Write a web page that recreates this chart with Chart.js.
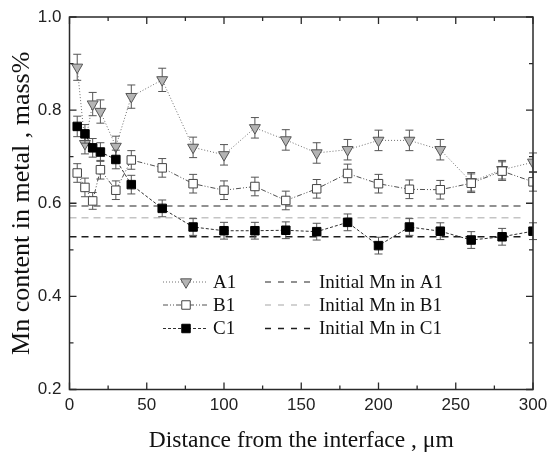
<!DOCTYPE html>
<html>
<head>
<meta charset="utf-8">
<script src="https://cdn.jsdelivr.net/npm/chart.js@4/dist/chart.umd.min.js"></script>
<style>
html,body{margin:0;padding:0;background:#fff;}
canvas{display:block;}
</style>
</head>
<body>
<canvas id="c" width="548" height="459"></canvas>
<script>
// ---- data ----
const distance = [5, 10, 15, 20, 30, 40, 60, 80, 100, 120, 140, 160, 180, 200, 220, 240, 260, 280, 300];
const a1 = [0.892, 0.728, 0.813, 0.797, 0.722, 0.829, 0.865, 0.720, 0.704, 0.762, 0.736, 0.708, 0.715, 0.735, 0.735, 0.715, 0.646, 0.672, 0.688];
const b1 = [0.665, 0.634, 0.605, 0.672, 0.628, 0.693, 0.676, 0.642, 0.628, 0.636, 0.606, 0.631, 0.664, 0.642, 0.630, 0.629, 0.643, 0.669, 0.646];
const c1 = [0.765, 0.749, 0.719, 0.710, 0.694, 0.640, 0.589, 0.549, 0.541, 0.541, 0.542, 0.539, 0.559, 0.509, 0.549, 0.540, 0.521, 0.528, 0.540];
const a1Err = [0.028, 0.022, 0.025, 0.025, 0.022, 0.025, 0.025, 0.022, 0.022, 0.022, 0.022, 0.022, 0.022, 0.022, 0.022, 0.022, 0.020, 0.020, 0.020];
const b1Err = [0.020, 0.020, 0.018, 0.020, 0.020, 0.020, 0.020, 0.020, 0.020, 0.020, 0.020, 0.020, 0.020, 0.020, 0.020, 0.020, 0.020, 0.020, 0.020];
const c1Err = [0.022, 0.020, 0.020, 0.020, 0.020, 0.020, 0.018, 0.018, 0.018, 0.018, 0.018, 0.018, 0.018, 0.018, 0.018, 0.018, 0.018, 0.018, 0.018];
const initialMn = [0.594, 0.569, 0.528]; // A1, B1, C1
const refX = [0, 293];
const seriesNames = ['A1', 'B1', 'C1'];
const refNames = ['Initial Mn in A1', 'Initial Mn in B1', 'Initial Mn in C1'];
const yTicks = [0.2, 0.4, 0.6, 0.8, 1.0];
const yMinor = [0.3, 0.5, 0.7, 0.9];
const xTicks = [0, 50, 100, 150, 200, 250, 300];
const xMinor = [25, 75, 125, 175, 225, 275];

const pts = (ys) => distance.map((x, i) => ({x: x, y: ys[i]}));
const refPts = (v) => refX.map(x => ({x: x, y: v}));

const styles = [
  {line: '#707070', dash: [1, 2], pointStyle: 'triangle', rotation: 180, radius: 6.3, bg: '#b4b4b4', border: '#555'},
  {line: '#505050', dash: [5, 2, 1, 2, 1, 2], pointStyle: 'rect', rotation: 0, radius: 6, bg: '#ffffff', border: '#444'},
  {line: '#303030', dash: [3, 2], pointStyle: 'rect', rotation: 0, radius: 6, bg: '#000000', border: '#000'}
];
const refColors = ['#6e6e6e', '#c4c4c4', '#1e1e1e'];
const errs = [a1Err, b1Err, c1Err];

const datasets = [];
[a1, b1, c1].forEach((ys, i) => {
  const s = styles[i];
  datasets.push({
    label: seriesNames[i], data: pts(ys), errors: errs[i],
    borderColor: s.line, borderWidth: 1, borderDash: s.dash,
    pointStyle: s.pointStyle, rotation: s.rotation, pointRadius: s.radius,
    pointBackgroundColor: s.bg, pointBorderColor: s.border, pointBorderWidth: 1,
    fill: false, tension: 0, order: 3 - i
  });
});
initialMn.forEach((v, i) => {
  datasets.push({
    label: refNames[i], data: refPts(v),
    borderColor: refColors[i], borderWidth: 1.6, borderDash: [7, 5],
    pointRadius: 0, fill: false, order: 10
  });
});

const errorBars = {
  id: 'errorBars',
  beforeDatasetDraw(chart, args) {
    const ds = chart.data.datasets[args.index];
    if (!ds.errors) return;
    const {ctx, scales: {x, y}} = chart;
    ctx.save();
    ctx.strokeStyle = '#555';
    ctx.lineWidth = 1;
    ds.data.forEach((p, i) => {
      const px = x.getPixelForValue(p.x);
      const top = y.getPixelForValue(p.y + ds.errors[i]);
      const bot = y.getPixelForValue(p.y - ds.errors[i]);
      ctx.beginPath();
      ctx.moveTo(px, top); ctx.lineTo(px, bot);
      ctx.moveTo(px - 4, top); ctx.lineTo(px + 4, top);
      ctx.moveTo(px - 4, bot); ctx.lineTo(px + 4, bot);
      ctx.stroke();
    });
    ctx.restore();
  }
};

const frameTicks = {
  id: 'frameTicks',
  afterDraw(chart) {
    const {ctx, chartArea: a, scales: {x, y}} = chart;
    ctx.save();
    ctx.strokeStyle = '#2a2a2a';
    ctx.lineWidth = 1.5;
    ctx.strokeRect(a.left, a.top, a.right - a.left, a.bottom - a.top);
    ctx.lineWidth = 1.3;
    ctx.beginPath();
    const drawX = (v, len) => {
      const px = x.getPixelForValue(v);
      ctx.moveTo(px, a.bottom); ctx.lineTo(px, a.bottom - len);
      ctx.moveTo(px, a.top); ctx.lineTo(px, a.top + len);
    };
    const drawY = (v, len) => {
      const py = y.getPixelForValue(v);
      ctx.moveTo(a.left, py); ctx.lineTo(a.left + len, py);
      ctx.moveTo(a.right, py); ctx.lineTo(a.right - len, py);
    };
    xTicks.forEach(v => drawX(v, 7));
    xMinor.forEach(v => drawX(v, 4));
    yTicks.forEach(v => drawY(v, 7));
    yMinor.forEach(v => drawY(v, 4));
    ctx.stroke();
    ctx.restore();
  }
};

const legendPlugin = {
  id: 'inLegend',
  afterDraw(chart) {
    const {ctx} = chart;
    const rows = [282, 305, 328.5];
    ctx.save();
    ctx.font = '19px "Liberation Serif", "Times New Roman", serif';
    ctx.textBaseline = 'middle';
    ctx.fillStyle = '#111';
    rows.forEach((ry, i) => {
      const s = styles[i];
      ctx.strokeStyle = s.line; ctx.lineWidth = 1; ctx.setLineDash(s.dash);
      ctx.beginPath(); ctx.moveTo(163, ry); ctx.lineTo(208, ry); ctx.stroke();
      ctx.setLineDash([]);
      ctx.fillStyle = s.bg; ctx.strokeStyle = s.border; ctx.lineWidth = 1;
      Chart.helpers.drawPoint(ctx, {pointStyle: s.pointStyle, rotation: s.rotation, radius: s.radius, borderWidth: 1}, 186, ry);
      ctx.fillStyle = '#111';
      ctx.fillText(seriesNames[i], 213, ry + 1);
    });
    rows.forEach((ry, i) => {
      ctx.strokeStyle = refColors[i]; ctx.lineWidth = 1.6; ctx.setLineDash([6, 7]);
      ctx.beginPath(); ctx.moveTo(265, ry); ctx.lineTo(311, ry); ctx.stroke();
      ctx.setLineDash([]);
      ctx.fillStyle = '#111';
      ctx.fillText(refNames[i], 319, ry + 1);
    });
    ctx.restore();
  }
};

new Chart(document.getElementById('c'), {
  type: 'line',
  data: {datasets: datasets},
  options: {
    responsive: false,
    animation: false,
    devicePixelRatio: 1,
    layout: {padding: {top: 17, right: 15, left: 0, bottom: 0}},
    plugins: {legend: {display: false}, tooltip: {enabled: false}},
    scales: {
      x: {
        type: 'linear', min: 0, max: 300,
        afterFit: s => { s.height = 69.5; s.paddingLeft = 0; s.paddingRight = 0; },
        afterBuildTicks: s => { s.ticks = xTicks.map(v => ({value: v})); },
        grid: {display: false, drawTicks: false},
        border: {display: false},
        ticks: {padding: 6, color: '#222', autoSkip: false, maxRotation: 0,
          font: {family: '"Liberation Sans", Arial, sans-serif', size: 17},
          callback: v => String(v)},
        title: {display: true, text: 'Distance from the interface , μm', color: '#111',
          font: {family: '"Liberation Serif", "Times New Roman", serif', size: 23.5},
          padding: {top: 0, bottom: 4}}
      },
      y: {
        type: 'linear', min: 0.2, max: 1.0,
        afterFit: s => { s.width = 69.5; s.paddingTop = 0; s.paddingBottom = 0; },
        afterBuildTicks: s => { s.ticks = yTicks.map(v => ({value: v})); },
        grid: {display: false, drawTicks: false},
        border: {display: false},
        ticks: {padding: 8, color: '#222',
          font: {family: '"Liberation Sans", Arial, sans-serif', size: 17},
          callback: v => Number(v).toFixed(1)},
        title: {display: true, text: 'Mn content in metal , mass%', color: '#111',
          font: {family: '"Liberation Serif", "Times New Roman", serif', size: 26},
          padding: {top: 7, bottom: 0}}
      }
    }
  },
  plugins: [errorBars, frameTicks, legendPlugin]
});
</script>
</body>
</html>
